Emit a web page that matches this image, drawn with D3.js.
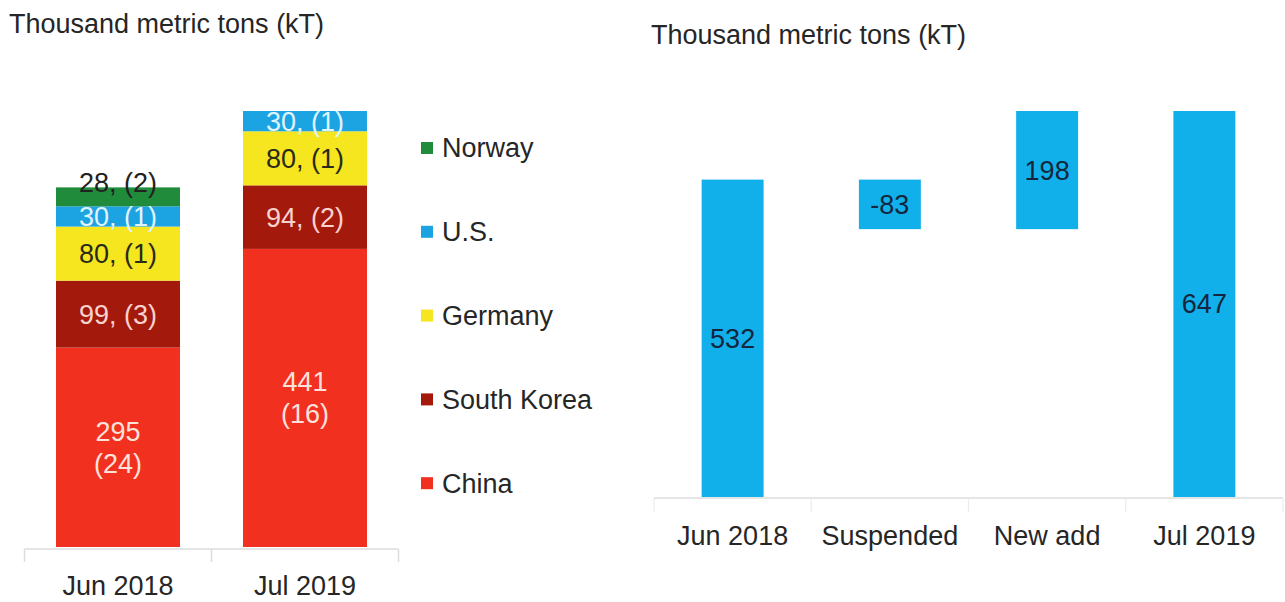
<!DOCTYPE html>
<html>
<head>
<meta charset="utf-8">
<script src="https://cdn.jsdelivr.net/npm/d3@7"></script>
<style>
  html, body { margin: 0; padding: 0; background: #fff; }
  svg { display: block; }
  text { font-family: "Liberation Sans", Arial, Helvetica, sans-serif; }
</style>
</head>
<body>
<svg id="chart" width="1285" height="602"></svg>
<script>
// Capacity by country (kT), with number of plants in brackets
const periods = ["Jun 2018", "Jul 2019"];
const countries = ["China", "South Korea", "Germany", "U.S.", "Norway"];
const capacity = {
  "China":       [295, 441],
  "South Korea": [99, 94],
  "Germany":     [80, 80],
  "U.S.":        [30, 30],
  "Norway":      [28, 0]
};
const plants = {
  "China":       [24, 16],
  "South Korea": [3, 2],
  "Germany":     [1, 1],
  "U.S.":        [1, 1],
  "Norway":      [2, 0]
};
const countryColors = ["#f2301f", "#a3190b", "#f6e61f", "#1ca3e2", "#1f8b3b"];
const labelColors   = ["#fde2dc", "#f8d2cf", "#2a2a1a", "#e0f4ff", "#222222"];

// Capacity bridge (kT)
const steps = ["Jun 2018", "Suspended", "New add", "Jul 2019"];
const stepValues = [532, -83, 198, 647];
const stepIsTotal = [true, false, false, true];

const unitTitle = "Thousand metric tons (kT)";

const svg = d3.select("#chart");
const FS = 27;
const axisGrey = "#dcdcdc";
const textDark = "#262626";

// ---------- Left panel: stacked bars ----------
const left = svg.append("g");
left.append("text").attr("x", 9).attr("y", 33)
  .attr("font-size", FS).attr("fill", textDark).text(unitTitle);

const xL = d3.scaleBand().domain(periods).range([24.5, 398.5])
  .paddingInner(0.337).paddingOuter(0.337 / 2);

const rows = periods.map((p, i) => {
  const r = { period: p };
  countries.forEach(c => { r[c] = capacity[c][i]; });
  return r;
});
const stacked = d3.stack().keys(countries)(rows);
const totals = rows.map(r => d3.sum(countries, c => r[c]));
const yL = d3.scaleLinear().domain([0, d3.max(totals)]).range([547, 111]);

const layers = left.selectAll("g.layer").data(stacked).join("g")
  .attr("class", "layer")
  .attr("fill", (d, i) => countryColors[i]);

layers.selectAll("rect").data(d => d.map(v => ({ v, key: d.key })))
  .join("rect")
  .attr("x", d => xL(d.v.data.period))
  .attr("width", xL.bandwidth())
  .attr("y", d => yL(d.v[1]))
  .attr("height", d => yL(d.v[0]) - yL(d.v[1]));

// segment labels: "value, (plants)"
stacked.forEach((layer, li) => {
  layer.forEach((v, pi) => {
    const val = v[1] - v[0];
    if (!val) return;
    const cx = xL(v.data.period) + xL.bandwidth() / 2;
    const y0 = yL(v[0]), y1 = yL(v[1]);
    const h = y0 - y1;
    const n = plants[layer.key][pi];
    const isTop = v[1] === totals[pi];
    const t = left.append("text")
      .attr("x", cx).attr("text-anchor", "middle")
      .attr("font-size", FS).attr("fill", labelColors[li]);
    if (h > 100) {
      const cy = (y0 + y1) / 2;
      t.append("tspan").attr("x", cx).attr("y", cy - 16).attr("dy", "0.35em").text(val);
      t.append("tspan").attr("x", cx).attr("y", cy + 16).attr("dy", "0.35em").text(`(${n})`);
    } else if (isTop && h < 20) {
      t.attr("y", y1 - 5).attr("dy", "0.35em").text(`${val}, (${n})`);
    } else {
      t.attr("y", (y0 + y1) / 2).attr("dy", "0.35em").text(`${val}, (${n})`);
    }
  });
});

// category axis
const axL = left.append("g");
axL.append("line").attr("x1", xL.range()[0]).attr("x2", xL.range()[1])
  .attr("y1", 549).attr("y2", 549).attr("stroke", axisGrey).attr("stroke-width", 1.5);
d3.range(periods.length + 1).forEach(i => {
  const x = xL.range()[0] + i * xL.step();
  axL.append("line").attr("x1", x).attr("x2", x).attr("y1", 549).attr("y2", 562)
    .attr("stroke", axisGrey).attr("stroke-width", 1.5);
});
axL.selectAll("text.cat").data(periods).join("text").attr("class", "cat")
  .attr("x", d => xL(d) + xL.bandwidth() / 2).attr("y", 595)
  .attr("text-anchor", "middle").attr("font-size", FS).attr("fill", textDark)
  .text(d => d);

// legend (top of stack first)
const legend = svg.append("g");
const legendOrder = countries.slice().reverse();
legendOrder.forEach((c, i) => {
  const cy = 148 + i * 83.8;
  const ci = countries.indexOf(c);
  legend.append("rect").attr("x", 421).attr("y", cy - 6).attr("width", 12).attr("height", 12)
    .attr("fill", countryColors[ci]);
  legend.append("text").attr("x", 442).attr("y", cy).attr("dy", "0.35em")
    .attr("font-size", FS).attr("fill", textDark).text(c);
});

// ---------- Right panel: waterfall ----------
const right = svg.append("g");
right.append("text").attr("x", 651).attr("y", 44)
  .attr("font-size", FS).attr("fill", textDark).text(unitTitle);

const xR = d3.scaleBand().domain(steps).range([654, 1283])
  .paddingInner(0.606).paddingOuter(0.606 / 2);

let run = 0;
const wf = steps.map((s, i) => {
  let lo, hi;
  if (stepIsTotal[i]) { lo = 0; hi = stepValues[i]; run = stepValues[i]; }
  else {
    const start = run; run += stepValues[i];
    lo = Math.min(start, run); hi = Math.max(start, run);
  }
  return { step: s, value: stepValues[i], lo, hi };
});
const yR = d3.scaleLinear().domain([0, d3.max(wf, d => d.hi)]).range([497, 111]);

right.selectAll("rect.wf").data(wf).join("rect").attr("class", "wf")
  .attr("x", d => xR(d.step)).attr("width", xR.bandwidth())
  .attr("y", d => yR(d.hi)).attr("height", d => yR(d.lo) - yR(d.hi))
  .attr("fill", "#12b0ea");

right.selectAll("text.val").data(wf).join("text").attr("class", "val")
  .attr("x", d => xR(d.step) + xR.bandwidth() / 2)
  .attr("y", d => (yR(d.lo) + yR(d.hi)) / 2).attr("dy", "0.35em")
  .attr("text-anchor", "middle").attr("font-size", FS).attr("fill", "#13263d")
  .text(d => d.value);

const axR = right.append("g");
axR.append("line").attr("x1", xR.range()[0]).attr("x2", xR.range()[1])
  .attr("y1", 498).attr("y2", 498).attr("stroke", axisGrey).attr("stroke-width", 1.5);
d3.range(steps.length + 1).forEach(i => {
  const x = xR.range()[0] + i * xR.step();
  axR.append("line").attr("x1", x).attr("x2", x).attr("y1", 498).attr("y2", 512)
    .attr("stroke", "#ececec").attr("stroke-width", 1.2);
});
axR.selectAll("text.cat").data(steps).join("text").attr("class", "cat")
  .attr("x", d => xR(d) + xR.bandwidth() / 2).attr("y", 545)
  .attr("text-anchor", "middle").attr("font-size", FS).attr("fill", textDark)
  .text(d => d);
</script>
</body>
</html>
